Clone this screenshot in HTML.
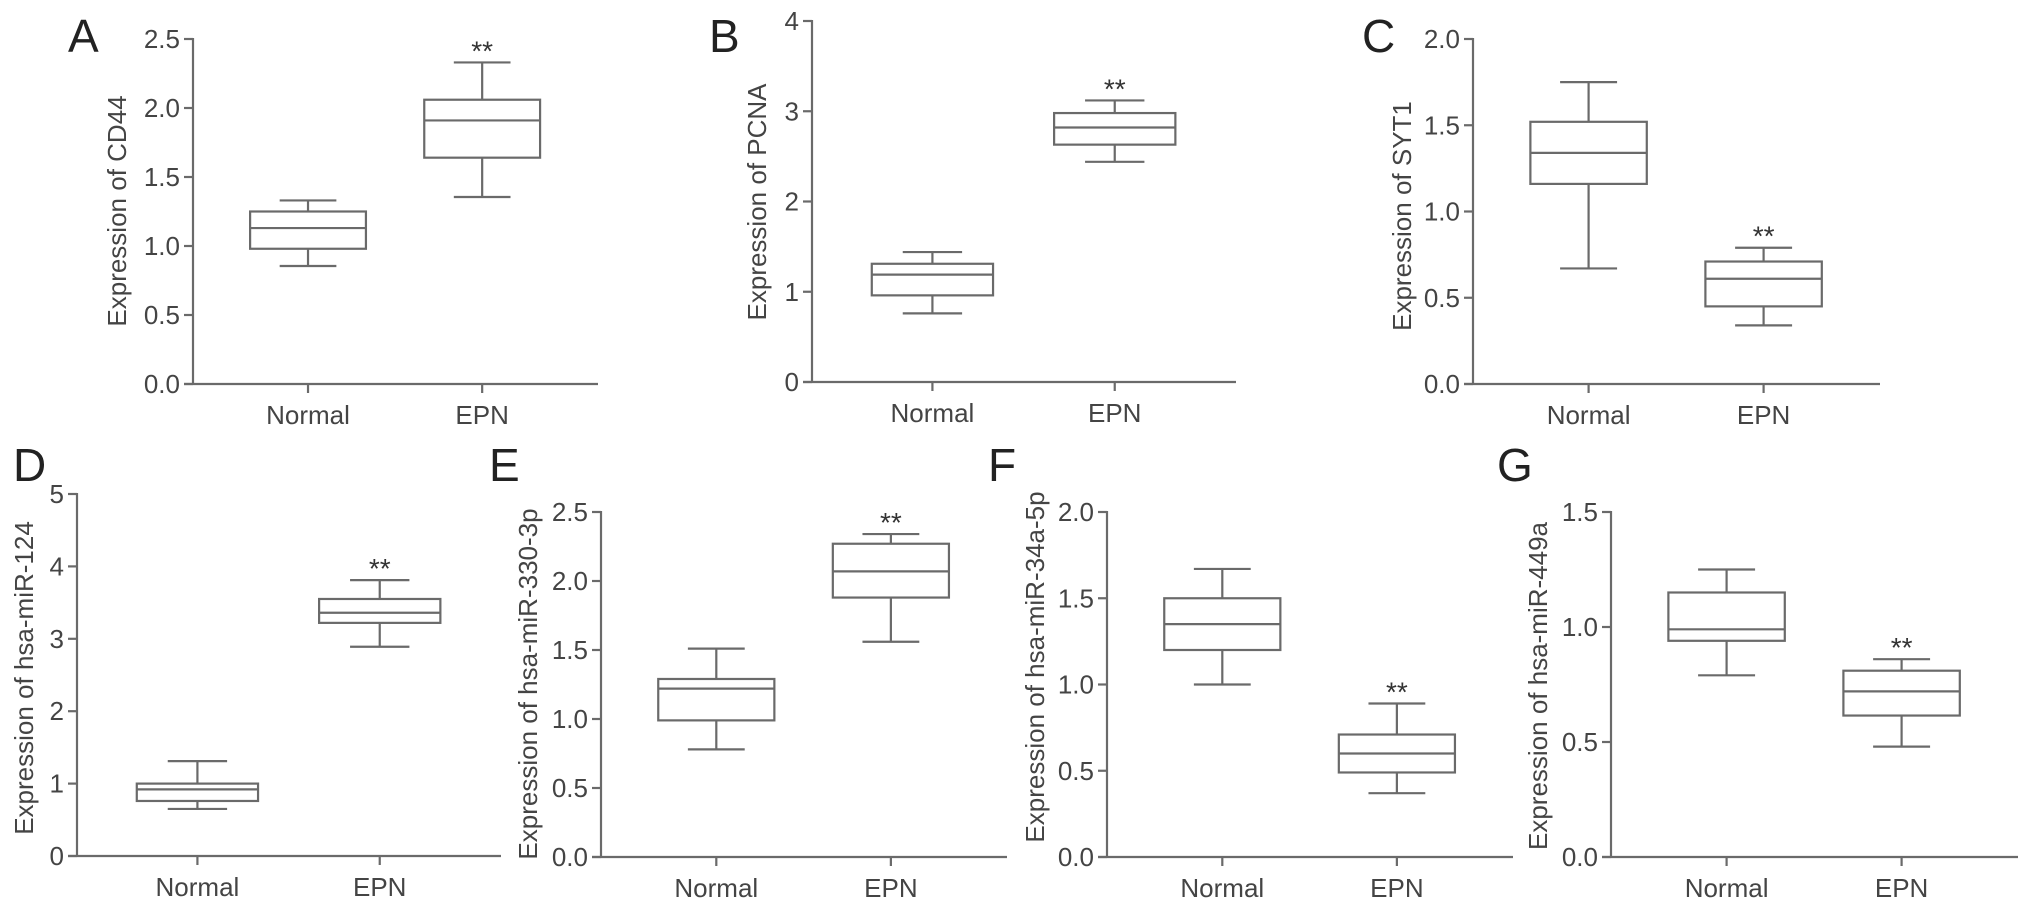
<!DOCTYPE html>
<html><head><meta charset="utf-8">
<style>
html,body{margin:0;padding:0;background:#fff;}
svg{display:block;}
text{font-family:"Liberation Sans",Arial,sans-serif;fill:#444;}
</style></head>
<body>
<svg id="fig" width="2031" height="907" viewBox="0 0 2031 907" xmlns="http://www.w3.org/2000/svg"></svg>
<script>
// ---- data: [min, q1, median, q3, max] ----
const categories = ["Normal", "EPN"];
const cd44Normal = [0.855, 0.98, 1.13, 1.25, 1.33];
const cd44Epn = [1.355, 1.64, 1.91, 2.06, 2.33];
const pcnaNormal = [0.76, 0.96, 1.19, 1.31, 1.44];
const pcnaEpn = [2.44, 2.63, 2.82, 2.98, 3.12];
const syt1Normal = [0.67, 1.16, 1.34, 1.52, 1.75];
const syt1Epn = [0.34, 0.45, 0.61, 0.71, 0.79];
const mir124Normal = [0.65, 0.76, 0.92, 1.0, 1.31];
const mir124Epn = [2.89, 3.22, 3.36, 3.55, 3.81];
const mir330Normal = [0.78, 0.99, 1.22, 1.29, 1.51];
const mir330Epn = [1.56, 1.88, 2.07, 2.27, 2.34];
const mir34Normal = [1.0, 1.20, 1.35, 1.50, 1.67];
const mir34Epn = [0.37, 0.49, 0.60, 0.71, 0.89];
const mir449Normal = [0.79, 0.94, 0.99, 1.15, 1.25];
const mir449Epn = [0.48, 0.615, 0.72, 0.81, 0.86];
// tick labels
const ticksA = ["0.0","0.5","1.0","1.5","2.0","2.5"];
const ticksB = ["0","1","2","3","4"];
const ticksC = ["0.0","0.5","1.0","1.5","2.0"];
const ticksD = ["0","1","2","3","4","5"];
const ticksE = ["0.0","0.5","1.0","1.5","2.0","2.5"];
const ticksF = ["0.0","0.5","1.0","1.5","2.0"];
const ticksG = ["0.0","0.5","1.0","1.5"];

const panels = [
 {id:"a",letter:"A",title:"Expression of CD44",series:[cd44Normal,cd44Epn],ticks:ticksA,
  ax:193,ay0:384,ay1:39,len:405,lx:68,ly:52,tx:117,ty:211},
 {id:"b",letter:"B",title:"Expression of PCNA",series:[pcnaNormal,pcnaEpn],ticks:ticksB,
  ax:812,ay0:382,ay1:21,len:424,lx:709,ly:52,tx:757,ty:202},
 {id:"c",letter:"C",title:"Expression of SYT1",series:[syt1Normal,syt1Epn],ticks:ticksC,
  ax:1473,ay0:384,ay1:39,len:407,lx:1362,ly:52,tx:1402,ty:216},
 {id:"d",letter:"D",title:"Expression of hsa-miR-124",series:[mir124Normal,mir124Epn],ticks:ticksD,
  ax:77,ay0:856,ay1:494,len:424,lx:13,ly:481,tx:24,ty:678},
 {id:"e",letter:"E",title:"Expression of hsa-miR-330-3p",series:[mir330Normal,mir330Epn],ticks:ticksE,
  ax:601,ay0:857,ay1:512,len:406,lx:489,ly:481,tx:528,ty:684},
 {id:"f",letter:"F",title:"Expression of hsa-miR-34a-5p",series:[mir34Normal,mir34Epn],ticks:ticksF,
  ax:1107,ay0:857,ay1:512,len:406,lx:988,ly:481,tx:1035,ty:667},
 {id:"g",letter:"G",title:"Expression of hsa-miR-449a",series:[mir449Normal,mir449Epn],ticks:ticksG,
  ax:1611,ay0:857,ay1:512,len:407,lx:1497,ly:481,tx:1538,ty:686}
];

const NS = "http://www.w3.org/2000/svg";
const svg = document.getElementById("fig");
const STROKE = "#6a6a6a";
function mk(tag, attrs, parent){
  const e = document.createElementNS(NS, tag);
  for (const k in attrs) e.setAttribute(k, attrs[k]);
  parent.appendChild(e);
  return e;
}
function line(p, x1,y1,x2,y2,name){
  const l = mk("line",{x1:x1,y1:y1,x2:x2,y2:y2,stroke:STROKE,"stroke-width":2.2},p);
  
  
  return l;
}

panels.forEach(p=>{
  const g = mk("g",{},svg);
  
  
  const maxVal = parseFloat(p.ticks[p.ticks.length-1]);
  const y = v => p.ay0 - (v/maxVal)*(p.ay0-p.ay1);
  const x = i => p.ax + p.len*(i===0?0.284:0.714);
  const boxHalf = p.len*0.143, capHalf = p.len*0.07;

  const L = mk("text",{x:p.lx,y:p.ly,"font-size":46,style:"fill:#222"},g);
  L.textContent = p.letter;
  
  

  line(g, p.ax, p.ay1-1, p.ax, p.ay0+1, 'y-axis');
  line(g, p.ax-9, p.ay0, p.ax+p.len, p.ay0, 'x-axis');

  p.ticks.forEach(t=>{
    const yy = y(parseFloat(t));
    line(g, p.ax-9, yy, p.ax, yy, 'y-tick');
    const tt = mk("text",{x:p.ax-13,y:yy+9,"font-size":26,"text-anchor":"end"},g);
    tt.textContent = t;
    
    
  });

  const ttl = mk("text",{x:0,y:0,"font-size":26,"text-anchor":"middle",
    transform:`translate(${p.tx+9},${p.ty}) rotate(-90)`},g);
  ttl.textContent = p.title;
  
  

  categories.forEach((c,i)=>{
    const cx = x(i);
    line(g, cx, p.ay0, cx, p.ay0+9, 'x-tick');
    const xl = mk("text",{x:cx,y:p.ay0+40,"font-size":26,"text-anchor":"middle"},g);
    xl.textContent = c;
    
    

    const s = p.series[i];
    const bg = mk("g",{},g);
    
    
    line(bg, cx, y(s[0]), cx, y(s[1]), 'lower-whisker');
    line(bg, cx, y(s[3]), cx, y(s[4]), 'upper-whisker');
    line(bg, cx-capHalf, y(s[0]), cx+capHalf, y(s[0]), 'min-cap');
    line(bg, cx-capHalf, y(s[4]), cx+capHalf, y(s[4]), 'max-cap');
    const r = mk("rect",{x:cx-boxHalf,y:y(s[3]),width:2*boxHalf,height:y(s[1])-y(s[3]),
      fill:"none",stroke:STROKE,"stroke-width":2.2},bg);
    
    
    line(bg, cx-boxHalf, y(s[2]), cx+boxHalf, y(s[2]), 'median-line');

    if (i===1){
      const st = mk("text",{x:cx,y:y(s[4])-16+14,"font-size":28,"text-anchor":"middle",style:"fill:#333"},g);
      st.textContent = "**";
      
      
    }
  });
});
</script>
</body></html>
